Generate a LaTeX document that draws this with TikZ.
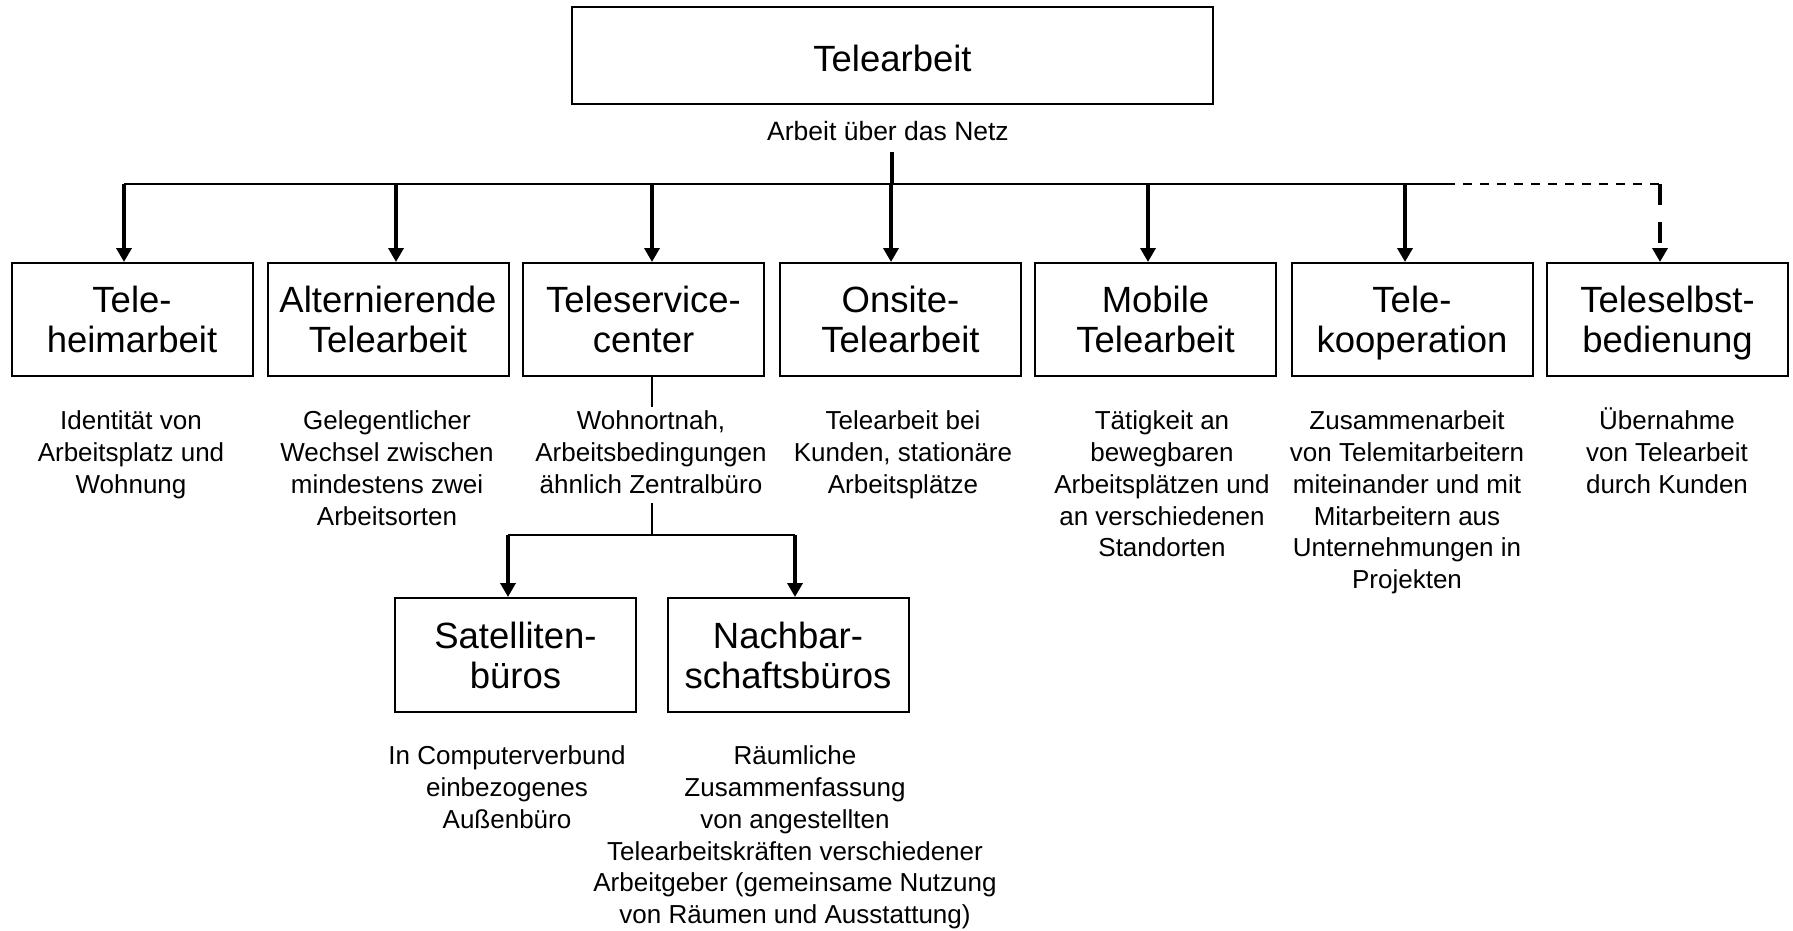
\documentclass[tikz,border=0pt]{standalone}
\usepackage{fontspec}
\setmainfont{Liberation Sans}
\usetikzlibrary{arrows.meta}

% struts: box lines (40pt pitch) and description lines (31.8pt pitch)
\newcommand\bs{\rule[-6.9pt]{0pt}{40pt}}
\newcommand\ds{\rule[-9.8pt]{0pt}{31.8pt}}

\tikzset{
  box/.style={draw, line width=2pt, minimum width=241pt, minimum height=113pt,
    inner sep=0pt, align=center, font=\fontsize{36.5}{40}\selectfont},
  desc/.style={anchor=north, inner sep=0pt, align=center,
    font=\fontsize{26}{31.8}\selectfont},
  bus/.style={line width=2.5pt},
  feed/.style={line width=2pt},
  branch/.style={line width=4pt, -{Triangle[width=15pt,length=14pt]}},
  hdash/.style={dash pattern=on 9pt off 8pt},
  vdash/.style={dash pattern=on 21pt off 17pt},
}

\begin{document}
\begin{tikzpicture}[x=1pt,y=-1pt]
\fill[white] (0,0) rectangle (1793,930);
\useasboundingbox (0,0) rectangle (1793,930);

% root
\node[box, minimum width=641pt, minimum height=97pt,
      font=\fontsize{36.5}{40}\selectfont, text height=31pt, text depth=0pt]
  (root) at (892.5,55.5) {Telearbeit};
\node[anchor=base, inner sep=0pt, font=\fontsize{26.5}{31.8}\selectfont]
  (net) at (888,140) {Arbeit über das Netz};

% first level
\node[box] (b1) at (132,319.5)    {\bs Tele-\\\bs heimarbeit};
\node[box] (b2) at (388,319.5)    {\bs Alternierende\\\bs Telearbeit};
\node[box] (b3) at (643.5,319.5)  {\bs Teleservice-\\\bs center};
\node[box] (b4) at (900.5,319.5)  {\bs Onsite-\\\bs Telearbeit};
\node[box] (b5) at (1155.5,319.5) {\bs Mobile\\\bs Telearbeit};
\node[box] (b6) at (1412,319.5)   {\bs Tele-\\\bs kooperation};
\node[box] (b7) at (1667.5,319.5) {\bs Teleselbst-\\\bs bedienung};

\node[desc] (d1) at (131,407.4)  {\ds Identität von\\Arbeitsplatz und\\Wohnung};
\node[desc] (d2) at (387,407.4)  {\ds Gelegentlicher\\Wechsel zwischen\\mindestens zwei\\Arbeitsorten};
\node[desc] (d3) at (651,407.4)  {\ds Wohnortnah,\\Arbeitsbedingungen\\ähnlich Zentralbüro\ds};
\node[desc] (d4) at (903,407.4)  {\ds Telearbeit bei\\Kunden, stationäre\\Arbeitsplätze};
\node[desc] (d5) at (1162,407.4) {\ds Tätigkeit an\\bewegbaren\\Arbeitsplätzen und\\an verschiedenen\\Standorten};
\node[desc] (d6) at (1407,407.4) {\ds Zusammenarbeit\\von Telemitarbeitern\\miteinander und mit\\Mitarbeitern aus\\Unternehmungen in\\Projekten};
\node[desc] (d7) at (1667,407.4) {\ds Übernahme\\von Telearbeit\\durch Kunden};

% second level
\node[box, minimum height=114pt] (s1) at (515.5,655) {\bs Satelliten-\\\bs büros};
\node[box, minimum height=114pt] (s2) at (788,655)   {\bs Nachbar-\\\bs schaftsbüros};

\node[desc] (e1) at (507,742.4) {\ds In Computerverbund\\einbezogenes\\Außenbüro};
\node[desc] (e2) at (795,742.4) {\ds Räumliche\\Zusammenfassung\\von angestellten\\Telearbeitskräften verschiedener\\Arbeitgeber (gemeinsame Nutzung\\von Räumen und Ausstattung)};

% bus of the first level
\coordinate (stub) at (892,152);
\coordinate (hub)  at (892,184);
\coordinate (j1) at (124,184);
\coordinate (j2) at (396,184);
\coordinate (j3) at (652,184);
\coordinate (j4) at (891,184);
\coordinate (j5) at (1148,184);
\coordinate (j6) at (1405,184);
\coordinate (jd) at (1446,184);
\coordinate (j7) at (1660,184);

\draw[line width=4pt] (stub) -- (hub);
\draw[bus] (j1) -- (jd);
\draw[bus, hdash] (jd) -- (j7);
\foreach \i in {1,...,6} {
  \draw[branch] (j\i) -- (j\i |- b\i.north);
}
\draw[branch, vdash] (j7) -- (j7 |- b7.north);

% bus of the second level
\coordinate (k0) at (652,535);
\coordinate (k1) at (508,535);
\coordinate (k2) at (795,535);
\draw[feed] (b3.south -| k0) -- (d3.north -| k0);
\draw[feed] (d3.south -| k0) -- (k0);
\draw[bus] (k1) -- (k2);
\draw[branch] (k1) -- (k1 |- s1.north);
\draw[branch] (k2) -- (k2 |- s2.north);
\end{tikzpicture}
\end{document}
